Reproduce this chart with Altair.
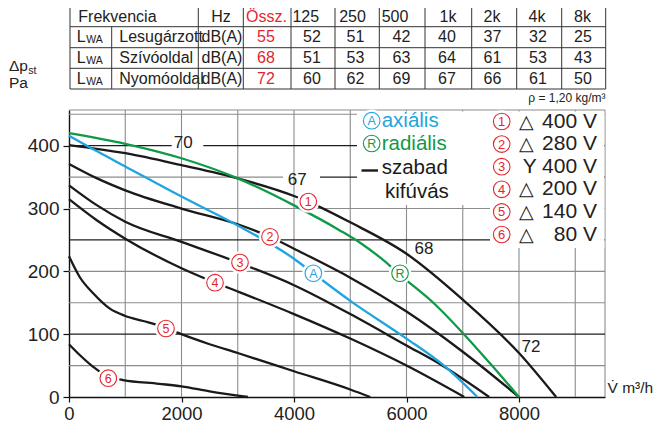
import altair as alt
import pandas as pd

FONT = "Liberation Sans"
RED, BLUE, GREEN, BLACK = "#e3262d", "#1ea5e0", "#0f9a48", "#1a1a1a"
GREY, DARK = "#8c8c8c", "#1e1e1e"

# ---------------- table values ----------------
freq_bands = ["125", "250", "500", "1k", "2k", "4k", "8k"]
row_names = ["Lesugárzott", "Szívóoldal", "Nyomóoldal"]
lwa_total = [55, 68, 72]
lwa_lesugarzott = [52, 51, 42, 40, 37, 32, 25]
lwa_szivooldal = [51, 53, 63, 64, 61, 53, 43]
lwa_nyomooldal = [60, 62, 69, 67, 66, 61, 50]

# ---------------- fan curves (flow m3/h, static pressure Pa) ----------------
c1_q = [0, 1000, 2000, 3000, 4000, 4250, 5000, 6000, 7000, 8000, 8660]
c1_p = [401, 388, 369, 348, 320, 311, 278, 228, 155, 70, 0]
c2_q = [0, 500, 1000, 2000, 3000, 3570, 4000, 5000, 6000, 7000, 8000]
c2_p = [371, 348, 329, 300, 275, 255, 236, 190, 136, 72, 0]
c3_q = [0, 500, 1000, 2000, 3040, 4000, 5000, 6000, 6620, 7470]
c3_p = [337, 305, 279, 247, 213, 178, 132, 82, 51, 0]
c4_q = [0, 500, 1000, 2000, 2600, 3000, 4000, 5000, 6000, 7026]
c4_p = [315, 281, 252, 205, 182, 168, 132, 93, 50, 0]
c5_q = [0, 190, 430, 720, 1000, 1320, 1720, 1940, 2500, 3000, 4000, 5000, 5355]
c5_p = [224, 191, 165, 141, 129, 121, 110, 102, 84, 70, 41, 12, 0]
c6_q = [0, 200, 430, 700, 960, 1600, 2000, 2500, 3180]
c6_p = [84, 66, 48, 32, 27, 21, 17, 9, 0]
axial_q = [0, 500, 1000, 2000, 3000, 4000, 4340, 5000, 6000, 6650, 7260]
axial_p = [416, 391, 367, 319, 273, 220, 197, 153, 93, 51, 0]
radial_q = [0, 1000, 2000, 3000, 4000, 4800, 5200, 5600, 5890, 6500, 7000, 7500, 8000]
radial_p = [420, 403, 380, 348, 305, 266, 244, 217, 194, 148, 102, 52, 0]

curve_names = ["1", "2", "3", "4", "5", "6", "A", "R"]
curve_colors = [BLACK] * 6 + [BLUE, GREEN]

# circled labels on the curves
label_text = ["1", "2", "3", "4", "5", "6", "A", "R"]
label_q = [4254, 3573, 3040, 2596, 1724, 699, 4344, 5885]
label_p = [311, 255, 214, 182, 109, 30, 197, 197]

# sound level annotations
iso_text = ["70", "67", "68", "72"]
iso_q = [2032, 4059, 6311, 8213]
iso_p = [405, 346, 236, 80]

# legend
legend_conn = ["△", "△", "", "△", "△", "△"]
legend_volt = ["400 V", "280 V", "Y 400 V", "200 V", "140 V", "80 V"]

# ---------------- geometry ----------------
PL, PT, W, H = 69, 110, 536, 287
PB = PT + H
SX = 450.0 / 8000.0
SY = (PB - 145.7) / 400.0
XMAX = W / SX
YMAX = H / SY


def qx(px):
    return (px - PL) / SX


def qy(py):
    return (PB - py) / SY


xs = alt.Scale(domain=[0, XMAX], nice=False, zero=False)
ys = alt.Scale(domain=[0, YMAX], nice=False, zero=False)
AX = alt.Axis(values=[0, 2000, 4000, 6000, 8000], format="d", title=None, grid=False,
              domainColor="#111", domainWidth=1.4, tickColor="#111", tickWidth=1.2, tickSize=5,
              labelFont=FONT, labelFontSize=18.5, labelColor="#222", labelPadding=2, labelFlush=False)
AY = alt.Axis(values=[0, 100, 200, 300, 400], format="d", title=None, grid=False,
              domainColor="#111", domainWidth=1.4, tickColor="#111", tickWidth=1.2, tickSize=6,
              labelFont=FONT, labelFontSize=19, labelColor="#222", labelPadding=4, labelFlush=False)


def X(f):
    return alt.X(f + ":Q", scale=xs, axis=AX)


def Y(f):
    return alt.Y(f + ":Q", scale=ys, axis=AY)


def rule_layer(segs):
    df = pd.DataFrame(segs, columns=["x", "y", "x2", "y2", "c", "w"])
    return alt.Chart(df).mark_rule().encode(
        x=X("x"), y=Y("y"), x2=alt.X2("x2"), y2=alt.Y2("y2"),
        color=alt.Color("c:N", scale=None), strokeWidth=alt.StrokeWidth("w:Q", scale=None))


def text_layer(rows, align="center", baseline="middle", **kw):
    df = pd.DataFrame(rows, columns=["x", "y", "t", "c", "fs"])
    return alt.Chart(df).mark_text(align=align, baseline=baseline, font=FONT, **kw).encode(
        x=X("x"), y=Y("y"), text="t:N", color=alt.Color("c:N", scale=None),
        size=alt.Size("fs:Q", scale=None))


# ---------------- grid ----------------
grid = []
for q in range(1000, 10000, 1000):
    grid.append((q, 0, q, YMAX, GREY, 1.1))
grid.append((0, YMAX, XMAX, YMAX, GREY, 1.1))
grid.append((XMAX, 0, XMAX, YMAX, GREY, 1.1))
for p in [50, 150, 200, 300, 450]:
    grid.append((0, p, XMAX, p, GREY, 1.1))
for p in [100, 250]:
    grid.append((0, p, XMAX, p, DARK, 1.3))
grid.append((0, 400, qx(171.7), 400, DARK, 1.3))
grid.append((qx(203.3), 400, XMAX, 400, DARK, 1.3))
grid.append((0, 350, qx(283), 350, GREY, 1.1))
grid.append((qx(320), 350, XMAX, 350, DARK, 1.3))
grid_chart = rule_layer(grid)

# legend white boxes
boxes = pd.DataFrame({"x": [qx(357), qx(490)], "x2": [qx(490), qx(604.4)],
                      "y": [qy(111.5), qy(111.5)], "y2": [qy(205), qy(248)]})
box_chart = alt.Chart(boxes).mark_rect(fill="white", stroke=None).encode(
    x=X("x"), x2=alt.X2("x2"), y=Y("y"), y2=alt.Y2("y2"))

legend_line = rule_layer([(qx(361.5), qy(170.5), qx(378), qy(170.5), BLACK, 2.4)])

# ---------------- curves ----------------
crow = []
for name, qs, ps in zip(curve_names,
                        [c1_q, c2_q, c3_q, c4_q, c5_q, c6_q, axial_q, radial_q],
                        [c1_p, c2_p, c3_p, c4_p, c5_p, c6_p, axial_p, radial_p]):
    for i, (q, p) in enumerate(zip(qs, ps)):
        crow.append({"curve": name, "q": q, "p": p, "i": i})
cdf = pd.DataFrame(crow)
curve_chart = alt.Chart(cdf).mark_line(interpolate="monotone", strokeWidth=2.3).encode(
    x=X("q"), y=Y("p"),
    color=alt.Color("curve:N", scale=alt.Scale(domain=curve_names, range=curve_colors), legend=None),
    detail="curve:N", order="i:Q")

# ---------------- circled labels ----------------
lab_rows = []
for t, q, p in zip(label_text, label_q, label_p):
    col = BLUE if t == "A" else (GREEN if t == "R" else RED)
    lab_rows.append({"x": q, "y": p, "t": t, "c": col, "fs": 12.5})
lab_rows.append({"x": qx(371.7), "y": qy(120.7), "t": "A", "c": BLUE, "fs": 12.5})
lab_rows.append({"x": qx(371.7), "y": qy(143.5), "t": "R", "c": GREEN, "fs": 12.5})
leg_y = [121.5, 144.1, 166.7, 189.3, 211.9, 234.5]
for k, yy in enumerate(leg_y):
    lab_rows.append({"x": qx(501.7), "y": qy(yy), "t": str(k + 1), "c": RED, "fs": 13})
ldf = pd.DataFrame(lab_rows)
lab_bg = alt.Chart(ldf).mark_point(shape="circle", filled=True, fill="white", opacity=1,
                                   size=500, strokeWidth=0).encode(x=X("x"), y=Y("y"))
lab_ring = alt.Chart(ldf).mark_point(shape="circle", filled=False, opacity=1, size=275,
                                     strokeWidth=1.1).encode(
    x=X("x"), y=Y("y"), color=alt.Color("c:N", scale=None))
lab_txt = text_layer(lab_rows, dy=0.5)

iso_chart = text_layer([{"x": q, "y": p, "t": t, "c": "#222", "fs": 17}
                        for t, q, p in zip(iso_text, iso_q, iso_p)])

# ---------------- legend texts ----------------
leg_left = [
    {"x": qx(381.7), "y": qy(120.7), "t": "axiális", "c": BLUE, "fs": 20.5},
    {"x": qx(381.7), "y": qy(143.5), "t": "radiális", "c": GREEN, "fs": 20.5},
    {"x": qx(381.7), "y": qy(167.5), "t": "szabad", "c": BLACK, "fs": 20.5},
    {"x": qx(385), "y": qy(191.5), "t": "kifúvás", "c": BLACK, "fs": 20.5},
]
for s, yy in zip(legend_conn, leg_y):
    if s:
        leg_left.append({"x": qx(518.5), "y": qy(yy), "t": s, "c": "#222", "fs": 19})
leg_right = [{"x": qx(597), "y": qy(yy), "t": v, "c": "#222", "fs": 21}
             for v, yy in zip(legend_volt, leg_y)]

# ---------------- table ----------------
COLS = [70, 111.7, 198.3, 243.3, 291, 335, 379.3, 425, 471.7, 516.7, 561.7, 605.7]
ROWS = [6.7, 26.7, 47.7, 68.3, 89]
tseg = []
for yy in ROWS:
    tseg.append((qx(COLS[0]), qy(yy), qx(COLS[-1]), qy(yy), "#333", 1))
for xx in COLS:
    top = ROWS[1] if xx == 111.7 else ROWS[0]
    tseg.append((qx(xx), qy(top), qx(xx), qy(ROWS[-1]), "#333", 1))
table_rules = rule_layer(tseg)

row_y = [37.2, 58.0, 78.7]
head_centers = [305.8, 352.5, 395, 448, 492, 537, 582.5]
val_centers = [312, 355.5, 401.5, 447, 492.5, 538, 583]
t_center = [{"x": qx(221), "y": qy(16.7), "t": "Hz", "c": "#222", "fs": 16},
            {"x": qx(266.5), "y": qy(16.7), "t": "Össz.", "c": RED, "fs": 16}]
for f, cx in zip(freq_bands, head_centers):
    t_center.append({"x": qx(cx), "y": qy(16.7), "t": f, "c": "#222", "fs": 16})
t_left = [{"x": qx(78.3), "y": qy(16.7), "t": "Frekvencia", "c": "#222", "fs": 16}]
for r, (name, tot, vals) in enumerate(zip(row_names, lwa_total,
                                           [lwa_lesugarzott, lwa_szivooldal, lwa_nyomooldal])):
    yy = row_y[r]
    t_left.append({"x": qx(76.7), "y": qy(yy), "t": "L", "c": "#222", "fs": 16})
    t_left.append({"x": qx(86.3), "y": qy(yy + 3.2), "t": "WA", "c": "#222", "fs": 10.5})
    t_left.append({"x": qx(119.3), "y": qy(yy), "t": name, "c": "#222", "fs": 16})
    t_left.append({"x": qx(201.5), "y": qy(yy), "t": "dB(A)", "c": "#222", "fs": 16})
    t_center.append({"x": qx(266), "y": qy(yy), "t": str(tot), "c": RED, "fs": 16})
    for v, cx in zip(vals, val_centers):
        t_center.append({"x": qx(cx), "y": qy(yy), "t": str(v), "c": "#222", "fs": 16})

# axis titles and note
t_left += [
    {"x": qx(9), "y": qy(66), "t": "Δp", "c": "#222", "fs": 15.5},
    {"x": qx(28.3), "y": qy(70.5), "t": "st", "c": "#222", "fs": 10.5},
    {"x": qx(9), "y": qy(82.5), "t": "Pa", "c": "#222", "fs": 15.5},
    {"x": qx(607.5), "y": qy(387.5), "t": "V\u0307 m³/h", "c": "#222", "fs": 15.5},
]
t_right = [{"x": qx(605.5), "y": qy(98), "t": "ρ = 1,20 kg/m³", "c": "#222", "fs": 12}]

chart = alt.layer(
    grid_chart, box_chart, legend_line, curve_chart, lab_bg, lab_ring, lab_txt, iso_chart,
    text_layer(leg_left + t_left, align="left"),
    text_layer(leg_right + t_right, align="right"),
    table_rules,
    text_layer(t_center),
).properties(
    width=W, height=H,
    padding={"left": 61, "top": 102, "right": 50, "bottom": 25},
    autosize=alt.AutoSizeParams(type="none"),
).configure_view(stroke=None)

chart.save("out.html", embed_options={"renderer": "svg", "actions": False})
